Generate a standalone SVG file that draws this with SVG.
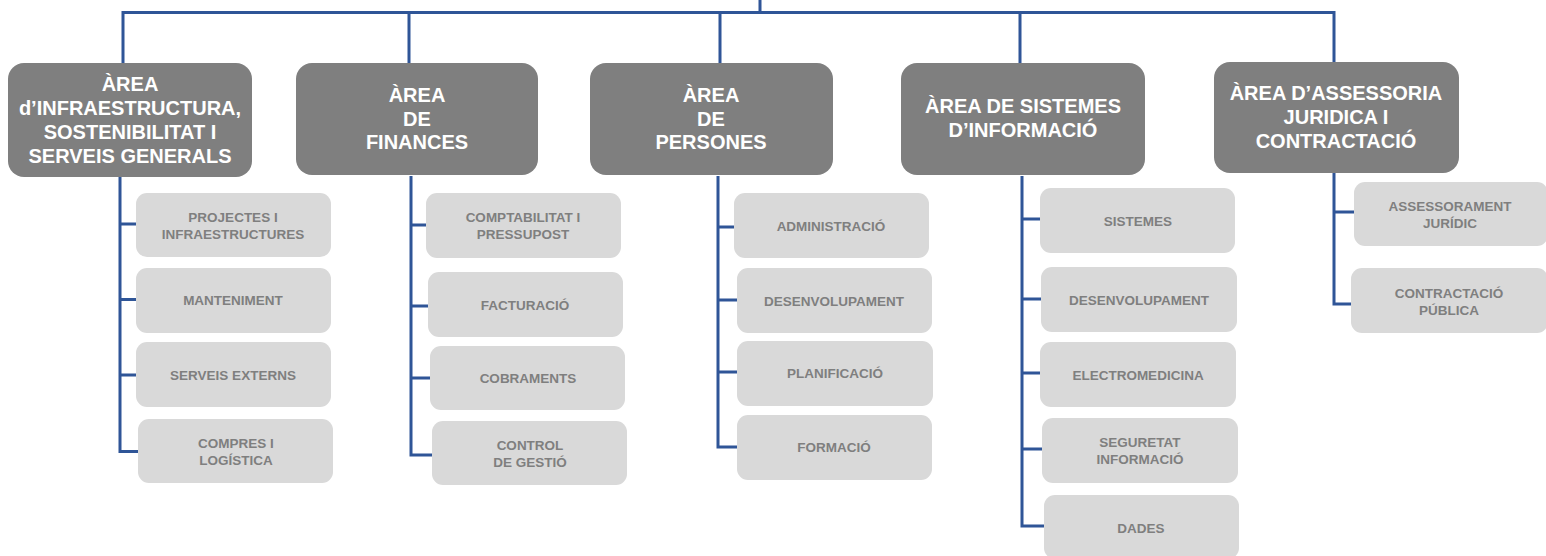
<svg xmlns="http://www.w3.org/2000/svg" width="1546" height="556" viewBox="0 0 1546 556">
<style>
.area rect{fill:#7f7f7f}
.area text{fill:#ffffff;font-family:"Liberation Sans",Arial,sans-serif;font-weight:bold;font-size:20px;text-anchor:middle}
.sub rect{fill:#d9d9d9}
.sub text{fill:#7f7f7f;font-family:"Liberation Sans",Arial,sans-serif;font-weight:bold;font-size:13.5px;text-anchor:middle}
#connectors path{fill:none;stroke:#2f5597;stroke-width:3;stroke-linejoin:miter}
</style>
<rect width="1546" height="556" fill="#ffffff"/>
<g id="connectors">
<path d="M760 0V12.5M123 63V12.5H1334V63M409 12.5V63M720 12.5V63M1020 12.5V63"/>
<path d="M120 176V451.5H138M120 224H136M120 299.5H136M120 375H136"/>
<path d="M411 176V455H432M411 225H426M411 306H428M411 378H430"/>
<path d="M718 176V447H737M718 227H734M718 300H737M718 372H737"/>
<path d="M1022 176V526H1044M1022 219H1040M1022 299H1041M1022 373H1040M1022 449H1042"/>
<path d="M1334 173V304H1351M1334 212H1354"/>
</g>
<g id="area-infra" class="area"><rect x="8" y="63" width="244" height="114" rx="16"/><text x="130" y="91">ÀREA</text><text x="130" y="115">d’INFRAESTRUCTURA,</text><text x="130" y="139">SOSTENIBILITAT I</text><text x="130" y="163">SERVEIS GENERALS</text></g>
<g id="area-finances" class="area"><rect x="296" y="63" width="242" height="112" rx="16"/><text x="417" y="102">ÀREA</text><text x="417" y="125.5">DE</text><text x="417" y="149">FINANCES</text></g>
<g id="area-persones" class="area"><rect x="590" y="63" width="243" height="112" rx="16"/><text x="711" y="102">ÀREA</text><text x="711" y="125.5">DE</text><text x="711" y="149">PERSONES</text></g>
<g id="area-sistemes" class="area"><rect x="901" y="63" width="244" height="112" rx="16"/><text x="1023" y="113">ÀREA DE SISTEMES</text><text x="1023" y="136.5">D’INFORMACIÓ</text></g>
<g id="area-assessoria" class="area"><rect x="1214" y="62" width="245" height="111" rx="16"/><text x="1336" y="100">ÀREA D’ASSESSORIA</text><text x="1336" y="124">JURIDICA I</text><text x="1336" y="148">CONTRACTACIÓ</text></g>

<g id="sub-projectes" class="sub"><rect x="136" y="193" width="195" height="64" rx="11"/><text x="233" y="222">PROJECTES I</text><text x="233" y="239">INFRAESTRUCTURES</text></g>
<g id="sub-manteniment" class="sub"><rect x="136" y="268" width="195" height="65" rx="11"/><text x="233" y="305">MANTENIMENT</text></g>
<g id="sub-serveis" class="sub"><rect x="136" y="342" width="195" height="65" rx="11"/><text x="233" y="380">SERVEIS EXTERNS</text></g>
<g id="sub-compres" class="sub"><rect x="138" y="419" width="195" height="64" rx="11"/><text x="236" y="448">COMPRES I</text><text x="236" y="465">LOGÍSTICA</text></g>

<g id="sub-comptabilitat" class="sub"><rect x="426" y="193" width="195" height="65" rx="11"/><text x="523" y="222">COMPTABILITAT I</text><text x="523" y="239">PRESSUPOST</text></g>
<g id="sub-facturacio" class="sub"><rect x="428" y="272" width="195" height="65" rx="11"/><text x="525" y="310">FACTURACIÓ</text></g>
<g id="sub-cobraments" class="sub"><rect x="430" y="346" width="195" height="64" rx="11"/><text x="528" y="383">COBRAMENTS</text></g>
<g id="sub-control" class="sub"><rect x="432" y="421" width="195" height="64" rx="11"/><text x="530" y="450">CONTROL</text><text x="530" y="467">DE GESTIÓ</text></g>

<g id="sub-administracio" class="sub"><rect x="734" y="193" width="195" height="65" rx="11"/><text x="831" y="231">ADMINISTRACIÓ</text></g>
<g id="sub-desenvolupament-p" class="sub"><rect x="737" y="268" width="195" height="65" rx="11"/><text x="834" y="306">DESENVOLUPAMENT</text></g>
<g id="sub-planificacio" class="sub"><rect x="737" y="341" width="196" height="65" rx="11"/><text x="835" y="378">PLANIFICACIÓ</text></g>
<g id="sub-formacio" class="sub"><rect x="737" y="415" width="195" height="65" rx="11"/><text x="834" y="452">FORMACIÓ</text></g>

<g id="sub-sistemes" class="sub"><rect x="1040" y="188" width="195" height="65" rx="11"/><text x="1138" y="226">SISTEMES</text></g>
<g id="sub-desenvolupament-s" class="sub"><rect x="1041" y="267" width="196" height="65" rx="11"/><text x="1139" y="305">DESENVOLUPAMENT</text></g>
<g id="sub-electromedicina" class="sub"><rect x="1040" y="342" width="196" height="65" rx="11"/><text x="1138" y="380">ELECTROMEDICINA</text></g>
<g id="sub-seguretat" class="sub"><rect x="1042" y="418" width="196" height="65" rx="11"/><text x="1140" y="447">SEGURETAT</text><text x="1140" y="464">INFORMACIÓ</text></g>
<g id="sub-dades" class="sub"><rect x="1044" y="495" width="195" height="64" rx="11"/><text x="1141" y="533">DADES</text></g>

<g id="sub-assessorament" class="sub"><rect x="1354" y="182" width="194" height="64" rx="11"/><text x="1450" y="211">ASSESSORAMENT</text><text x="1450" y="228">JURÍDIC</text></g>
<g id="sub-contractacio" class="sub"><rect x="1351" y="268" width="197" height="65" rx="11"/><text x="1449" y="298">CONTRACTACIÓ</text><text x="1449" y="315">PÚBLICA</text></g>
</svg>
